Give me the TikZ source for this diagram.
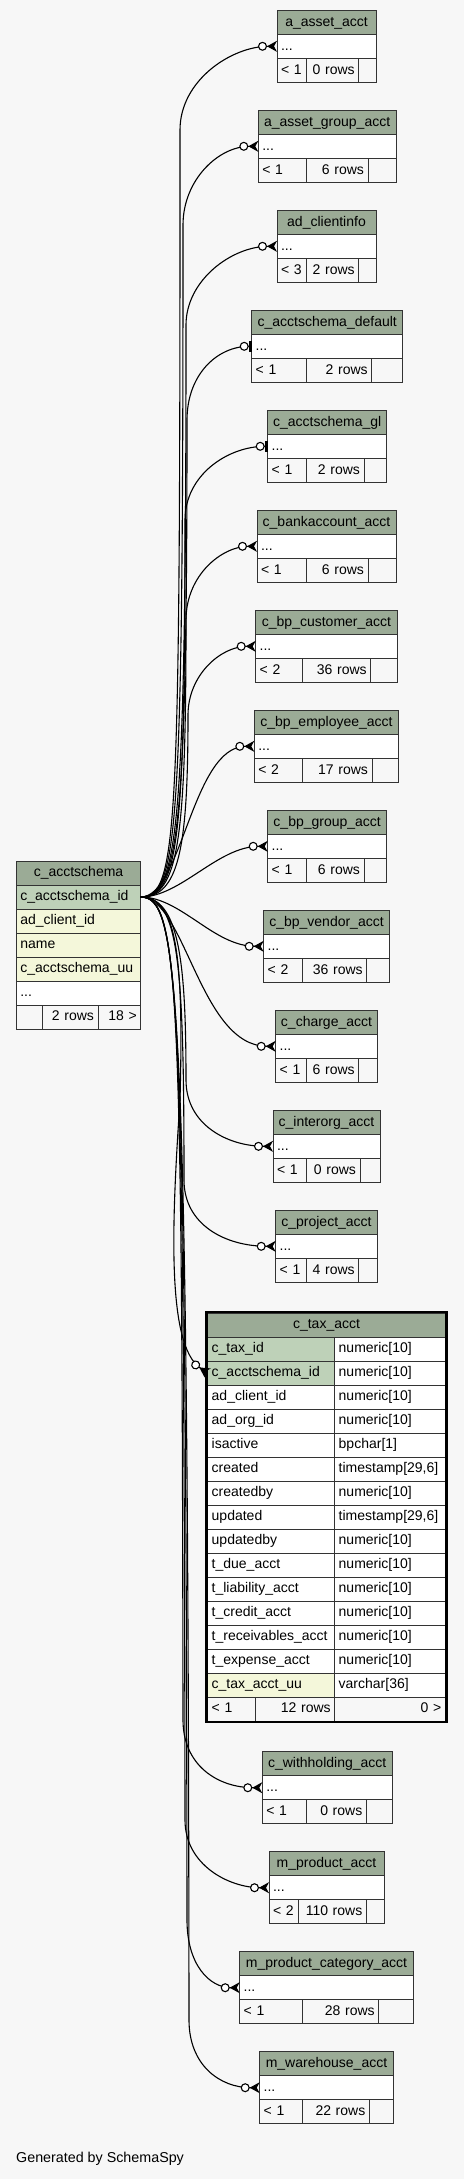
\documentclass[tikz,border=0pt]{standalone}
\usepackage{fontspec}
\setmainfont{Liberation Sans}
\usetikzlibrary{arrows.meta}

\definecolor{bgclr}{HTML}{F7F7F7}
\definecolor{hdrclr}{HTML}{9BAB96}
\definecolor{pkclr}{HTML}{BED1B8}
\definecolor{idxclr}{HTML}{F4F7DA}
\definecolor{lineclr}{HTML}{333333}

\tikzset{
  cell/.style={draw=lineclr, line width=0.9pt, anchor=north west, inner xsep=4pt,
    inner ysep=0pt, outer sep=0pt, minimum height=24pt, text height=10.5pt,
    text depth=3pt, font=\fontsize{14}{16}\selectfont, align=left},
  hdr/.style={cell, fill=hdrclr, align=center},
  body/.style={cell, fill=white},
  pk/.style={cell, fill=pkclr},
  idx/.style={cell, fill=idxclr},
  foot/.style={cell, fill=bgclr},
  footr/.style={foot, align=right},
  fk/.style={line width=1.1pt,
    -{Circle[length=9pt,fill=white] Stealth[reversed,length=10pt,width=11pt,inset=3pt]}},
  fkone/.style={line width=1.1pt,
    -{Circle[length=9pt,fill=white] Rectangle[length=3pt,width=11pt]}},
}

\begin{document}
\begin{tikzpicture}[x=1pt,y=-1pt]
  \fill[bgclr] (0,0) rectangle (464,2179);
  \useasboundingbox (0,0) rectangle (464,2179);

  % parent table
  \node[hdr, text width=116.4pt] (schema-h) at (16.3,861) {c\_acctschema};
  \foreach [count=\i] \col/\sty in {c\_acctschema\_id/pk, ad\_client\_id/idx, name/idx, c\_acctschema\_uu/idx} {
    \node[\sty, text width=116.4pt] (schema-\i) at (16.3,861+24*\i) {\col};
  }
  \node[body, text width=116.4pt] (schema-d) at (16.3,981) {...};
  \node[foot, text width=17.7pt] (schema-f1) at (16.3,1005) {};
  \node[footr, text width=48pt] (schema-f2) at (42,1005) {2 rows};
  \node[footr, text width=34.7pt] (schema-f3) at (98,1005) {18 >};

  % c_tax_acct, shown in full
  \node[hdr, text width=229.6pt] (tax-h) at (207.7,1313) {c\_tax\_acct};
  \foreach [count=\i] \col/\typ/\sty in {
      c\_tax\_id/numeric[10]/pk,
      c\_acctschema\_id/numeric[10]/pk,
      ad\_client\_id/numeric[10]/body,
      ad\_org\_id/numeric[10]/body,
      isactive/bpchar[1]/body,
      created/{timestamp[29,6]}/body,
      createdby/numeric[10]/body,
      updated/{timestamp[29,6]}/body,
      updatedby/numeric[10]/body,
      t\_due\_acct/numeric[10]/body,
      t\_liability\_acct/numeric[10]/body,
      t\_credit\_acct/numeric[10]/body,
      t\_receivables\_acct/numeric[10]/body,
      t\_expense\_acct/numeric[10]/body,
      c\_tax\_acct\_uu/varchar[36]/idx} {
    \node[\sty, text width=119pt] (tax-\i) at (207.7,1313+24*\i) {\col};
    \node[body, text width=102.6pt] (tax-t\i) at (334.7,1313+24*\i) {\typ};
  }
  \node[foot, text width=40pt] (tax-f1) at (207.7,1697) {< 1};
  \node[footr, text width=71pt] (tax-f2) at (255.7,1697) {12 rows};
  \node[footr, text width=102.6pt] (tax-f3) at (334.7,1697) {0 >};
  \draw[line width=2.4pt] (206.5,1311.8) rectangle (446.5,1722.2);

  % child tables, collapsed
  \foreach \tb/\ttl/\xl/\yt/\xr/\ca/\cb/\lo/\rw in {
      asset/a\_asset\_acct/277/10.3/376/306.7/358.7/< 1/0 rows,
      assetgrp/a\_asset\_group\_acct/258.3/110.3/396/306.7/368/< 1/6 rows,
      clientinfo/ad\_clientinfo/277/210.3/376/306.7/358.7/< 3/2 rows,
      default/c\_acctschema\_default/251.7/310.3/402.7/306.7/371.7/< 1/2 rows,
      gl/c\_acctschema\_gl/267.7/410.3/386.7/306.7/364/< 1/2 rows,
      bank/c\_bankaccount\_acct/257/510.3/396/306.7/368/< 1/6 rows,
      customer/c\_bp\_customer\_acct/255.7/610.3/397.3/302.7/370.7/< 2/36 rows,
      employee/c\_bp\_employee\_acct/254.3/710.3/398.7/302.7/372/< 2/17 rows,
      bpgroup/c\_bp\_group\_acct/267.7/810.3/386.7/306.7/364/< 1/6 rows,
      vendor/c\_bp\_vendor\_acct/263.7/910.3/389.3/302.7/366.7/< 2/36 rows,
      charge/c\_charge\_acct/275.7/1010.3/377.3/306.7/358.7/< 1/6 rows,
      interorg/c\_interorg\_acct/273/1110.3/380/306.7/360/< 1/0 rows,
      project/c\_project\_acct/275.7/1210.3/377.3/306.7/358.7/< 1/4 rows,
      withholding/c\_withholding\_acct/262.3/1751.7/392/306.7/366.3/< 1/0 rows,
      product/m\_product\_acct/269/1851.7/384/298.7/366.3/< 2/110 rows,
      prodcat/m\_product\_category\_acct/239.7/1951.7/413.3/302.7/378.7/< 1/28 rows,
      warehouse/m\_warehouse\_acct/259.7/2051.7/393.3/302.7/369.3/< 1/22 rows} {
    \pgfmathsetmacro\wh{\xr-\xl-8}
    \pgfmathsetmacro\wa{\ca-\xl-8}
    \pgfmathsetmacro\wb{\cb-\ca-8}
    \pgfmathsetmacro\wc{\xr-\cb-8}
    \node[hdr, text width=\wh pt] (\tb-h) at (\xl,\yt) {\ttl};
    \node[body, text width=\wh pt] (\tb-d) at (\xl,\yt+24) {...};
    \node[foot, text width=\wa pt] (\tb-f1) at (\xl,\yt+48) {\lo};
    \node[footr, text width=\wb pt] (\tb-f2) at (\ca,\yt+48) {\rw};
    \node[foot, text width=\wc pt] (\tb-f3) at (\cb,\yt+48) {};
  }

  % foreign keys
  \draw[fk] (schema-1.east) .. controls +(38,0) and (180,830) .. (180,130) .. controls +(0,-50) and +(-45,0) .. (asset-d.west);
  \draw[fk] (schema-1.east) .. controls +(38,0) and (183,830) .. (183,225) .. controls +(0,-45) and +(-40,0) .. (assetgrp-d.west);
  \draw[fk] (schema-1.east) .. controls +(38,0) and (186,830) .. (186,325) .. controls +(0,-45) and +(-45,0) .. (clientinfo-d.west);
  \draw[fkone] (schema-1.east) .. controls +(38,0) and (187,830) .. (187,420) .. controls +(0,-45) and +(-35,0) .. (default-d.west);
  \draw[fkone] (schema-1.east) .. controls +(38,0) and (185,840) .. (185,520) .. controls +(0,-45) and +(-40,0) .. (gl-d.west);
  \draw[fk] (schema-1.east) .. controls +(38,0) and (186,840) .. (186,620) .. controls +(0,-45) and +(-35,0) .. (bank-d.west);
  \draw[fk] (schema-1.east) .. controls +(38,0) and (188,850) .. (188,715) .. controls +(0,-40) and +(-35,0) .. (customer-d.west);
  \draw[fk] (schema-1.east) .. controls (182,897) and (192,746.3) .. (employee-d.west);
  \draw[fk] (schema-1.east) .. controls +(40,0) and +(-50,0) .. (bpgroup-d.west);
  \draw[fk] (schema-1.east) .. controls +(40,0) and +(-50,0) .. (vendor-d.west);
  \draw[fk] (schema-1.east) .. controls (185,897) and (200,1046.3) .. (charge-d.west);
  \draw[fk] (schema-1.east) .. controls +(38,0) and (186,960) .. (186,1080) .. controls +(0,45) and +(-45,0) .. (interorg-d.west);
  \draw[fk] (schema-1.east) .. controls +(38,0) and (184,960) .. (184,1180) .. controls +(0,45) and +(-50,0) .. (project-d.west);
  \draw[fk] (schema-1.east) .. controls +(35,0) and (184,950) .. (180,1100) .. controls (172,1220) and (166,1345) .. (tax-2.west);
  \draw[fk] (schema-1.east) .. controls +(38,0) and (182,980) .. (183,1720) .. controls +(0,45) and +(-45,0) .. (withholding-d.west);
  \draw[fk] (schema-1.east) .. controls +(38,0) and (184,980) .. (185,1820) .. controls +(0,45) and +(-40,0) .. (product-d.west);
  \draw[fk] (schema-1.east) .. controls +(38,0) and (186,980) .. (187,1920) .. controls +(0,45) and +(-30,0) .. (prodcat-d.west);
  \draw[fk] (schema-1.east) .. controls +(38,0) and (188,980) .. (189,2020) .. controls +(0,45) and +(-40,0) .. (warehouse-d.west);

  \node[anchor=west, inner sep=0pt, font=\fontsize{14.3}{16}\selectfont] (credit) at (16,2159) {Generated by SchemaSpy};
\end{tikzpicture}
\end{document}
